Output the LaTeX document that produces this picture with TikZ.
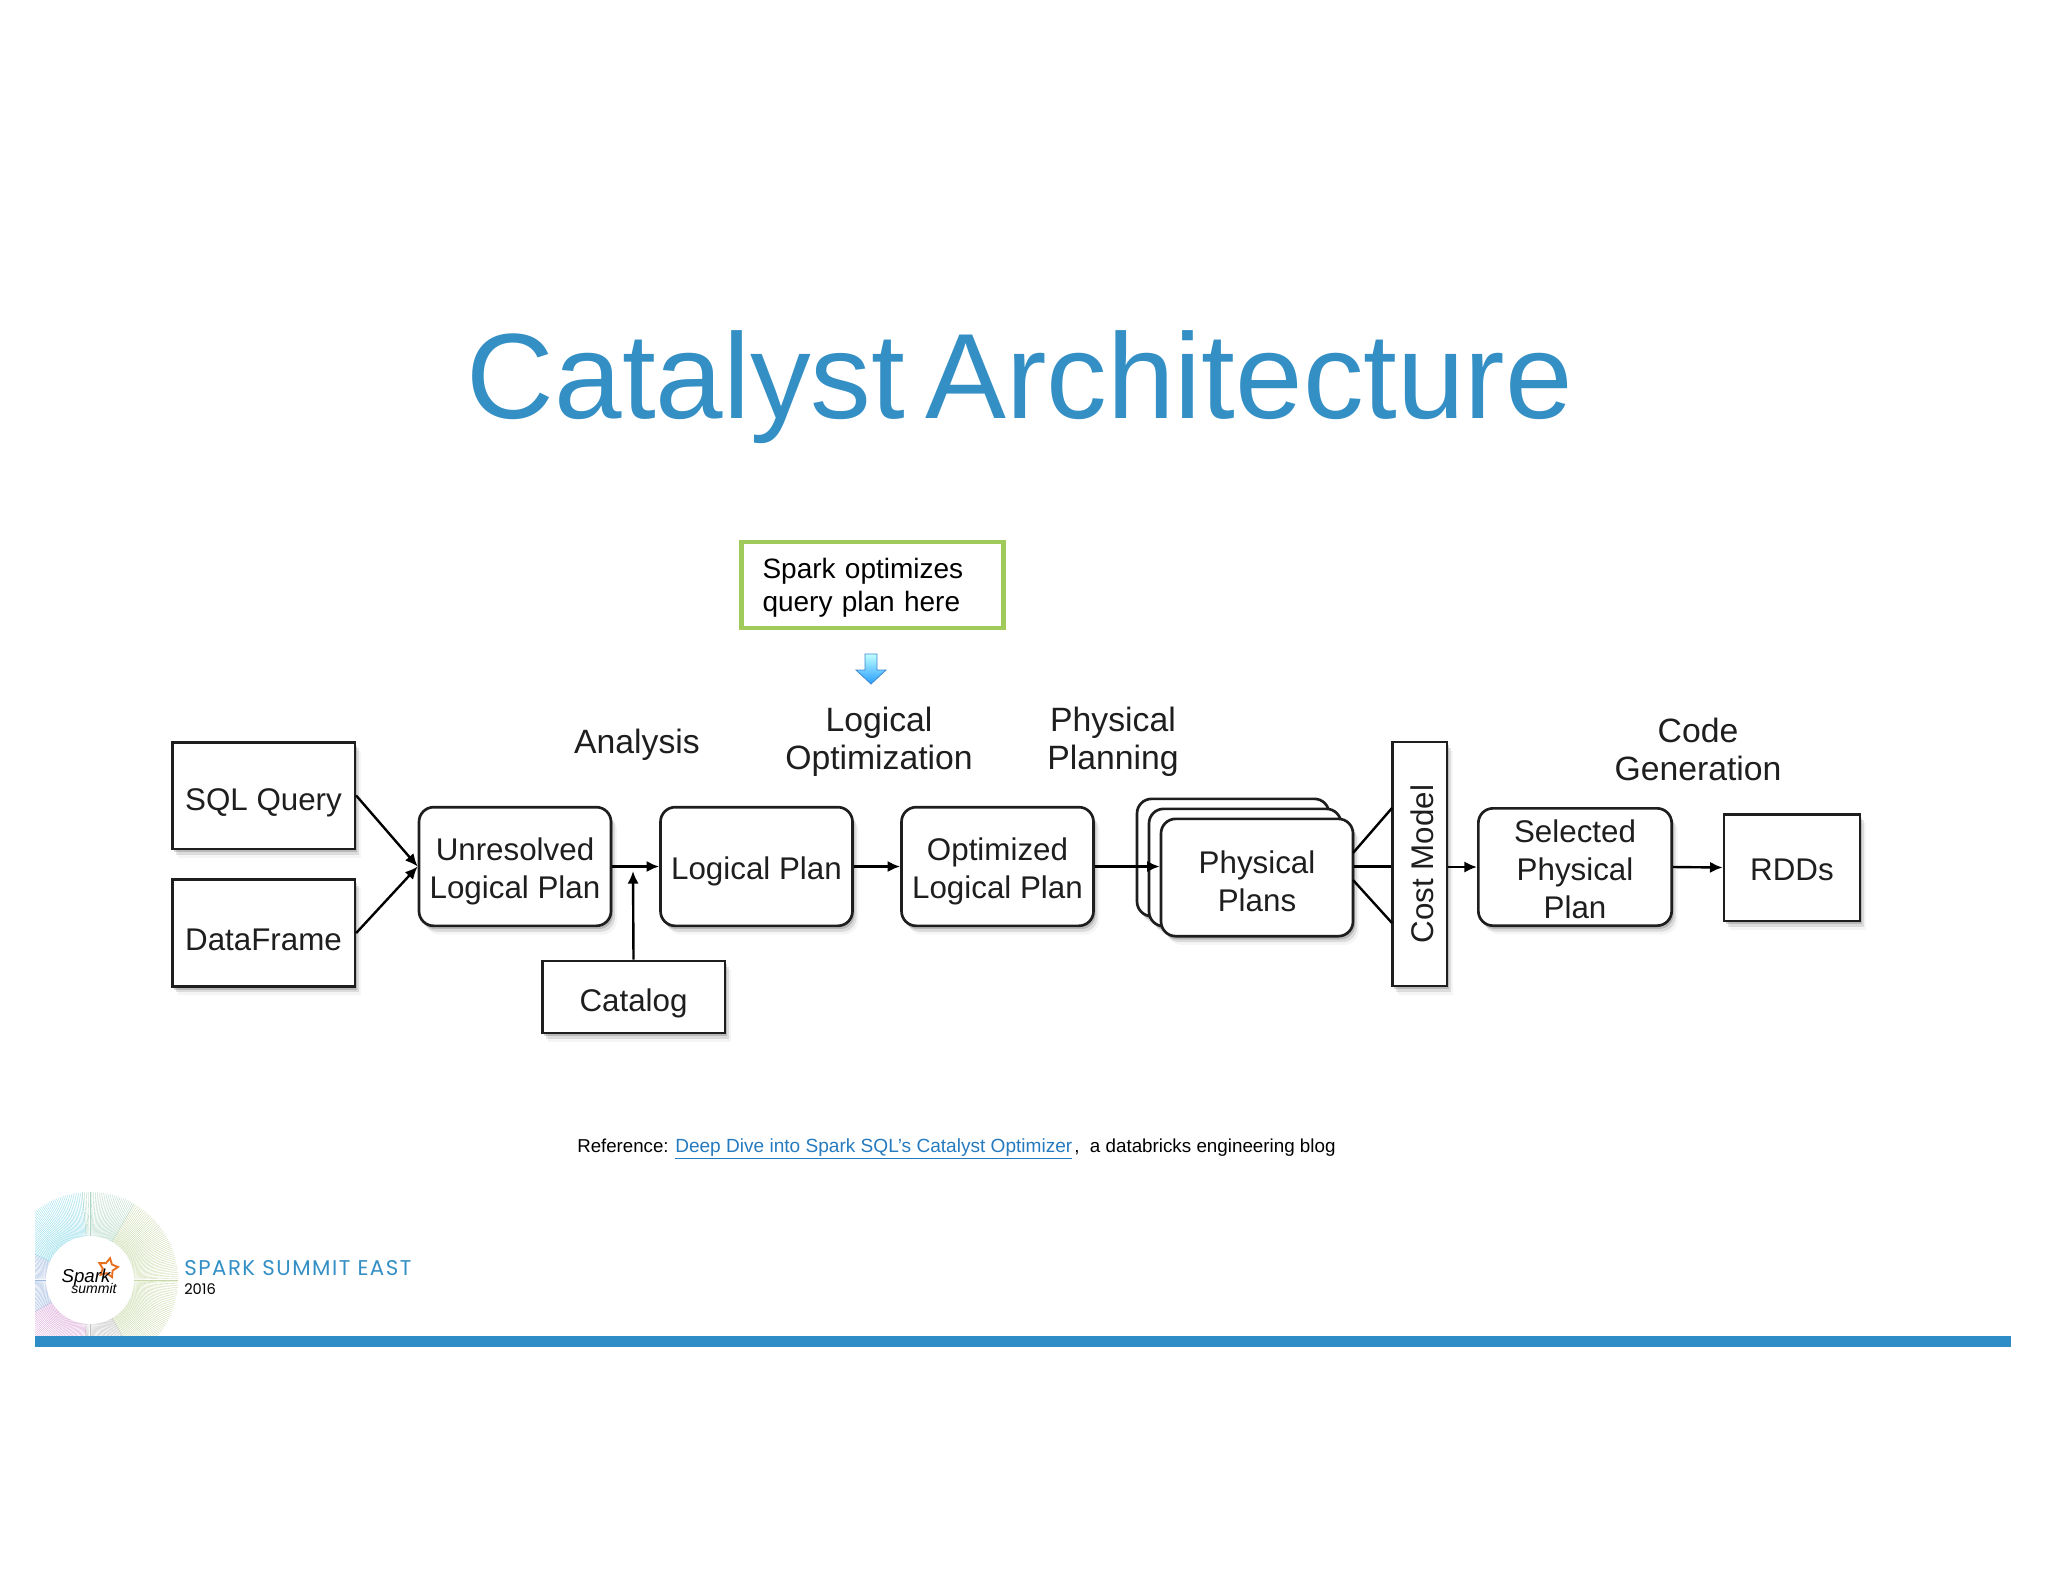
\documentclass[tikz,border=0pt]{standalone}
\usepackage{fontspec}
\setmainfont{Liberation Sans}
\newfontfamily\summitfont{Poppins}
\newfontfamily\summitwide[LetterSpace=7]{Poppins}
\usetikzlibrary{arrows.meta,shadows,shapes.geometric}

\definecolor{titleblue}{RGB}{52,143,197}
\definecolor{barblue}{RGB}{46,141,198}
\definecolor{linkblue}{RGB}{38,122,190}
\definecolor{boxgreen}{RGB}{160,203,90}
\definecolor{inkgrey}{RGB}{30,30,30}
\definecolor{sparkorange}{RGB}{232,112,28}
\definecolor{haloolive}{RGB}{200,216,168}
\definecolor{halogrey}{RGB}{190,190,190}
\definecolor{halopink}{RGB}{218,168,216}
\definecolor{haloblue}{RGB}{160,184,222}
\definecolor{halocyan}{RGB}{140,218,230}
\definecolor{haloteal}{RGB}{176,214,196}

\newcommand{\droprule}[1]{\rule{0pt}{#1}}

\tikzset{
	softshadow/.style={general shadow={shadow xshift=1.5pt,shadow yshift=-2.5pt,fill=black,opacity=.16},general shadow={shadow xshift=3pt,shadow yshift=-4.5pt,fill=black,opacity=.1},general shadow={shadow xshift=4.5pt,shadow yshift=-6.5pt,fill=black,opacity=.04}},
	planbox/.style={draw=inkgrey,line width=2pt,fill=white,align=center,inner sep=0pt,text=inkgrey,font=\fontsize{23.5}{28.5}\selectfont,softshadow},
	planround/.style={planbox,rounded corners=11pt},
	steplabel/.style={align=center,inner sep=0pt,text=inkgrey,font=\fontsize{25.3}{28.5}\selectfont},
	flowline/.style={draw=black,line width=1.8pt,-{Latex[length=9.5pt,width=8.5pt]}},
	plainline/.style={draw=black,line width=1.8pt},
	haloline/.style={line width=.25pt,color=#1}
}

\begin{document}
\begin{tikzpicture}[x=0.75pt,y=0.75pt,yscale=-1,xscale=1]
	\useasboundingbox (0,0) rectangle (2048,1582);

	\node [text=titleblue,inner sep=0pt,anchor=base,font=\fontsize{91}{91}\selectfont] (title) at (1020,418) {Catalyst\kern-10pt\ Architecture};

	% note and little arrow
	\node [draw=boxgreen,line width=3.2pt,fill=white,inner sep=0pt,inner xsep=15.75pt,text width=165pt,minimum height=65pt,align=left,font=\fontsize{21}{25}\selectfont] (note) at (872.5,585) {\droprule{19.5pt}Spark optimizes\\query plan here};
	\shade [top color=cyan!25!white,bottom color=blue!45!cyan!85!white,draw=cyan!55!blue!80!white,line width=.6pt] (865,654) -- (877,654) -- (877,670) -- (886,670) -- (871,684) -- (856,670) -- (865,670) -- cycle;

	% step labels
	\node [steplabel] (analysis) at (637,745) {Analysis};
	\node [steplabel] (logopt) at (879,742) {Logical\\Optimization};
	\node [steplabel] (physplan) at (1113,742) {Physical\\Planning};
	\node [steplabel] (codegen) at (1698,749) {Code\\Generation};

	% boxes
	\node [planbox,minimum width=137pt,minimum height=80pt] (sqlquery) at (263.5,795.5) {\droprule{27pt}SQL Query};
	\node [planbox,minimum width=137pt,minimum height=80pt] (dataframe) at (263.5,933) {\droprule{27pt}DataFrame};
	\node [planbox,minimum width=137pt,minimum height=54pt] (catalog) at (633.5,997) {\droprule{27pt}Catalog};
	\node [planround,minimum width=144pt,minimum height=89pt] (unresolved) at (515,866.5) {\droprule{25pt}Unresolved\\Logical Plan};
	\node [planround,minimum width=144pt,minimum height=89pt] (logical) at (756.5,866.5) {\droprule{25pt}Logical Plan};
	\node [planround,minimum width=144pt,minimum height=89pt] (optimized) at (997.5,866.5) {\droprule{25pt}Optimized\\Logical Plan};
	\node [planround,minimum width=144pt,minimum height=88pt] (physback) at (1233,857.5) {};
	\node [planround,minimum width=144pt,minimum height=88pt] (physmid) at (1245,867.5) {};
	\node [planround,minimum width=144pt,minimum height=88pt] (physical) at (1257,877.5) {\droprule{23pt}Physical\\Plans};
	\node [planbox,minimum width=41pt,minimum height=183pt] (costmodel) at (1419.5,864) {\rotatebox{90}{\droprule{21pt}Cost Model}};
	\node [planround,minimum width=145pt,minimum height=88pt] (selected) at (1575,867) {\droprule{21pt}Selected\\Physical\\Plan};
	\node [planbox,minimum width=102pt,minimum height=80pt] (rdds) at (1792,867.5) {\droprule{20pt}RDDs};

	% connectors
	\coordinate (cataloghit) at (633,871);
	\coordinate (physup) at (1353,853);
	\coordinate (physdown) at (1353,880);
	\coordinate (costup) at (1392,808);
	\coordinate (costdown) at (1392,923);

	\draw [flowline] (sqlquery.east) -- (unresolved.west);
	\draw [flowline] (dataframe.east) -- (unresolved.west);
	\draw [flowline] (unresolved.east) -- (logical.west);
	\draw [flowline] (catalog.north) -- (cataloghit);
	\draw [flowline] (logical.east) -- (optimized.west);
	\draw [flowline] (optimized.east) -- (optimized.east -| physical.west);
	\draw [plainline] (physup) -- (costup);
	\draw [plainline] (physical.east |- optimized.east) -- (costmodel.west |- optimized.east);
	\draw [plainline] (physdown) -- (costdown);
	\draw [flowline] (costmodel.east |- selected.west) -- (selected.west);
	\draw [flowline] (selected.east) -- (rdds.west);

	% reference line
	\node [anchor=base west,inner sep=0pt,font=\fontsize{14}{16}\selectfont] (refhead) at (577,1152) {Reference:};
	\node [anchor=base west,inner sep=0pt,text=linkblue,font=\fontsize{14.3}{16}\selectfont] (reflink) at (675,1152) {\underline{Deep Dive into Spark SQL’s Catalyst Optimizer}};
	\node [anchor=base west,inner sep=0pt,font=\fontsize{14.1}{16}\selectfont] (reftail) at (1074,1152) {,\ \ a databricks engineering blog};

	% footer logo
	\coordinate (halo) at (90,1280);
	\begin{scope}
		\clip (35,1190) rectangle (178,1336);
		\foreach \ang in {-60,-58.75,...,60}
			\draw [haloline=haloolive] (halo) -- ++(\ang:88);
		\foreach \ang in {60,61.25,...,95}
			\draw [haloline=halogrey] (halo) -- ++(\ang:88);
		\foreach \ang in {95,96.25,...,150}
			\draw [haloline=halopink] (halo) -- ++(\ang:88);
		\foreach \ang in {150,151.25,...,205}
			\draw [haloline=haloblue] (halo) -- ++(\ang:88);
		\foreach \ang in {205,206.25,...,265}
			\draw [haloline=halocyan] (halo) -- ++(\ang:88);
		\foreach \ang in {265,266.25,...,300}
			\draw [haloline=haloteal] (halo) -- ++(\ang:88);
	\end{scope}
	\node [circle,fill=white,minimum size=66pt,inner sep=0pt] (logodisc) at (halo) {};
	\node [star,star points=5,star point ratio=1.9,draw=sparkorange,line width=1.4pt,minimum size=15pt,inner sep=0pt,rotate=-12] (logostar) at (108,1268) {};
	\node [anchor=base,inner sep=0pt,font=\fontsize{14}{14}\selectfont\itshape] (logospark) at (86,1282) {Spark};
	\node [anchor=base,inner sep=0pt,font=\fontsize{10.5}{11}\selectfont\itshape] (logosummit) at (94,1293) {summit};

	\node [anchor=base west,inner sep=0pt,text=titleblue,font=\summitwide\fontsize{16}{18}\selectfont] (summit) at (184,1275) {SPARK SUMMIT EAST};
	\node [anchor=base west,inner sep=0pt,font=\summitfont\fontsize{11}{13}\selectfont] (summityear) at (184,1294) {2016};
	\fill [barblue] (35,1336) rectangle (2011,1347);
\end{tikzpicture}
\end{document}
